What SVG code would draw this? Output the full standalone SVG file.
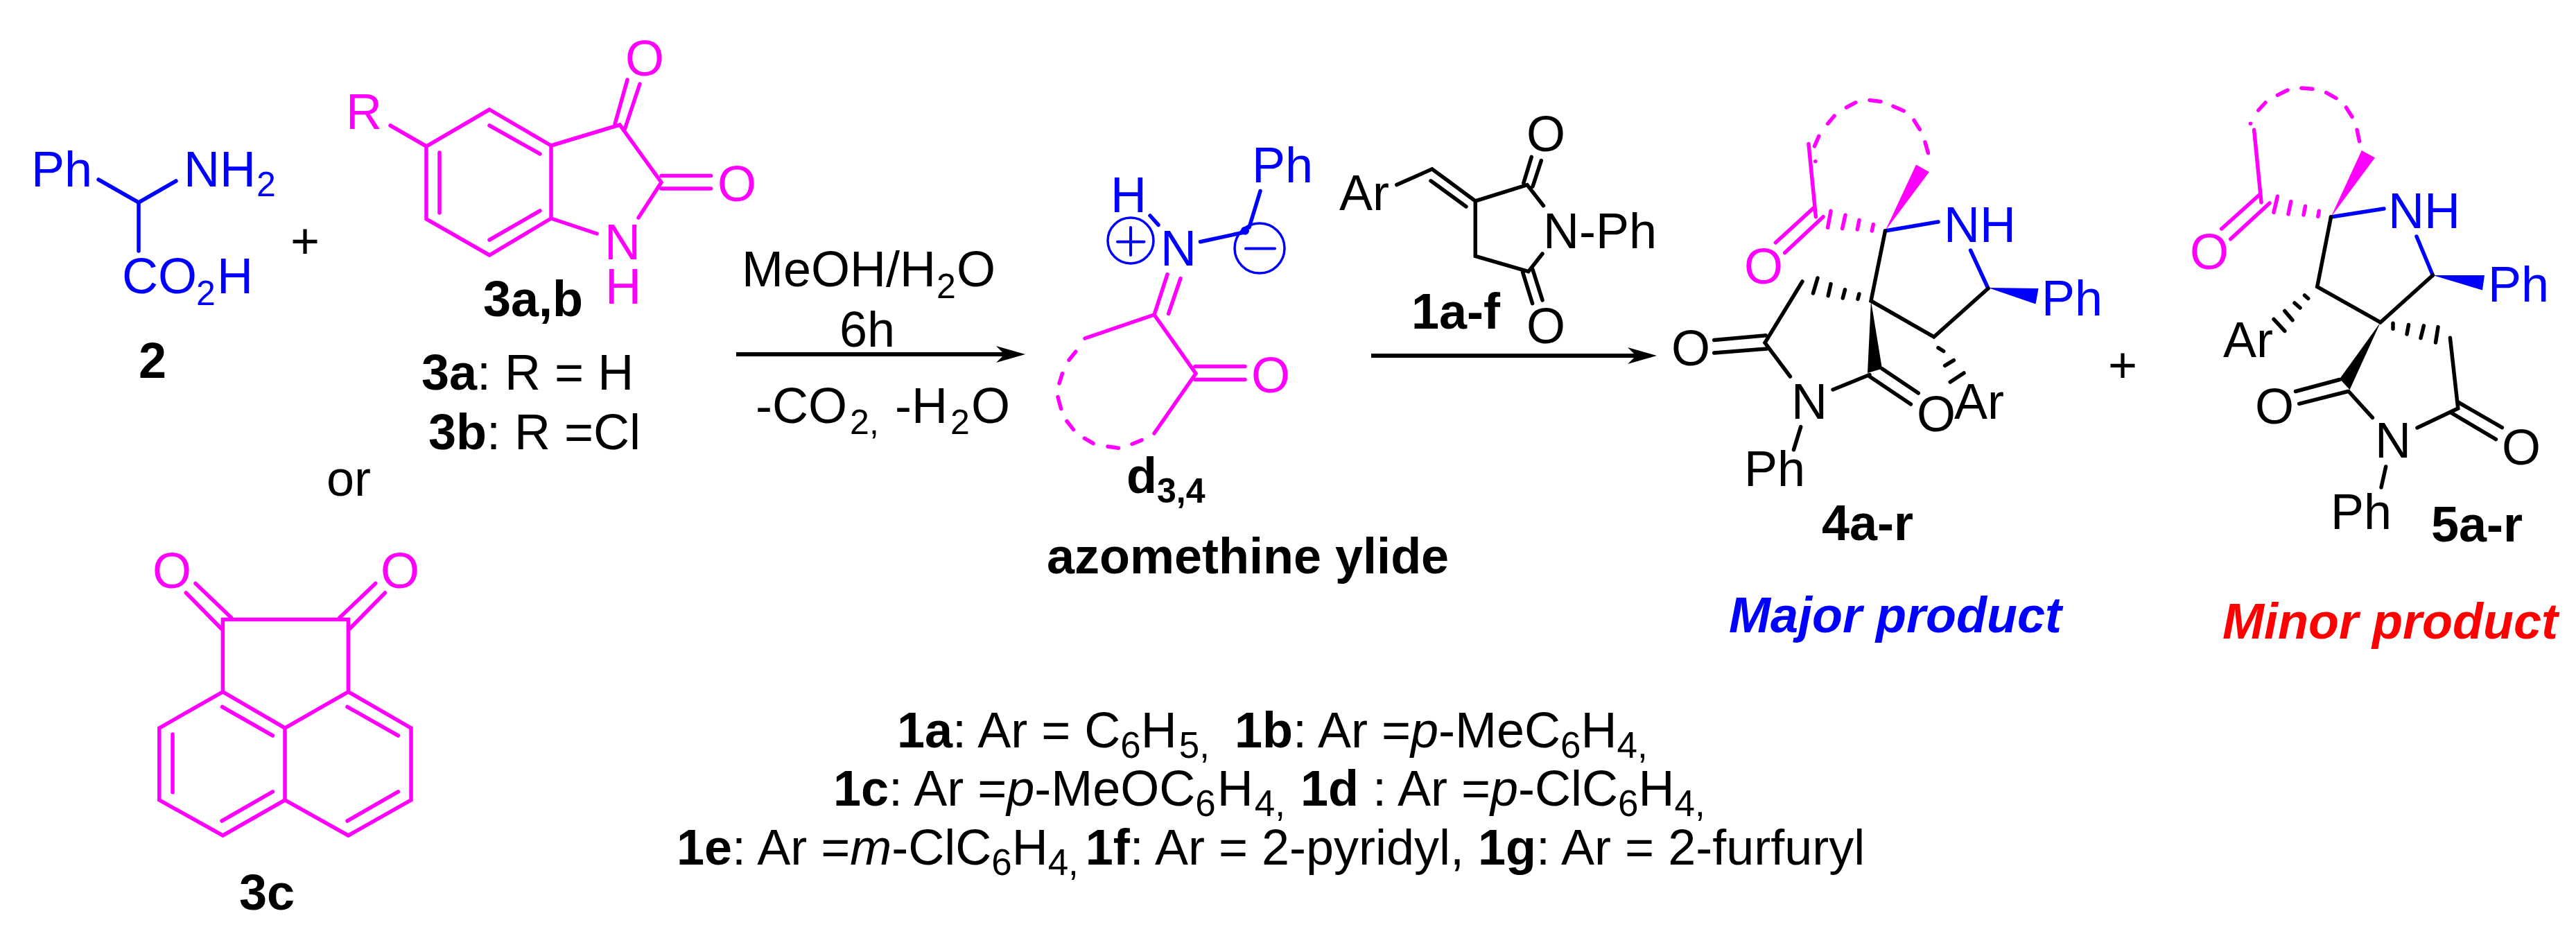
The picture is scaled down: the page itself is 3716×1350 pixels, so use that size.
<svg xmlns="http://www.w3.org/2000/svg" width="3716" height="1350" viewBox="0 0 3716 1350">
<style>
text{font-family:"Liberation Sans",Arial,sans-serif;font-size:72px;fill:#000}
.s{font-size:50px}
.l{font-size:53px}
.B{font-weight:bold}
.I{font-style:italic}
.BI{font-weight:bold;font-style:italic}
.tm{fill:#f0f}
.tb{fill:#00f}
.tr{fill:#f00}
path{fill:none;stroke-width:5.5;stroke-linecap:round;stroke-linejoin:miter}
.m{stroke:#f0f}
.b{stroke:#00f}
.k{stroke:#000}
.w{stroke:none}
.wm{fill:#f0f}
.wb{fill:#00f}
.wk{fill:#000}
.ar{stroke:#000;stroke-width:6;stroke-linecap:butt}
.c{fill:none;stroke:#00f;stroke-width:3.5}
</style>
<defs>
<marker id="head" markerUnits="userSpaceOnUse" markerWidth="46" markerHeight="28" refX="12" refY="12" orient="auto">
<path class="w wk" d="M0 0L42 12L0 24L12 12Z"/>
</marker>
</defs>
<rect width="3716" height="1350" fill="#fff"/>

<g id="connectors">
<path class="ar" d="M1062 511H1449" marker-end="url(#head)"/>
<path class="ar" d="M1978 513H2360" marker-end="url(#head)"/>
</g>

<g id="compound-2">
<path class="b" d="M142 259L200 292L254 261M200 292V362"/>
<text class="tb" x="45" y="269">Ph</text>
<text class="tb" x="265" y="269">NH<tspan class="s" x="370" y="283">2</tspan></text>
<text class="tb" x="176" y="423">CO<tspan class="s" x="283" y="440">2</tspan><tspan x="313" y="423">H</tspan></text>
<text class="B" x="200" y="545">2</text>
</g>

<text id="plus-1" x="419" y="372">+</text>

<g id="compound-3ab">
<path class="m" d="M563 181L615 211M706 158L795 210V315L706 368L615 316V211ZM706 181L779 222M634 220V307M779 304L706 346M795 210L894 180L954 263L921 314M795 315L861 337M905 115L887 179M923 121L901 187M954 253.600H1025.600M954 272H1025.600"/>
<text class="tm" x="499" y="186">R</text>
<text class="tm" x="902" y="109">O</text>
<text class="tm" x="1035" y="290">O</text>
<text class="tm" x="872" y="374">N</text>
<text class="tm" x="873" y="437.500">H</text>
<text class="B" x="697" y="456">3a,b</text>
<text x="608" y="561.600"><tspan class="B">3a</tspan>: R = H</text>
<text x="618" y="648"><tspan class="B">3b</tspan>: R =Cl</text>
<text x="471" y="715">or</text>
</g>

<g id="compound-3c">
<path class="m" d="M321.400 997.800V893.600H502.400V997.800L411 1050V1154L502.400 1205L593 1154V1050L502.400 997.800M321.400 997.800L229.800 1050V1154L321.400 1205L411 1154M321.400 997.800L411 1050M320.600 1019.500L393.400 1061M249 1059V1142.700M320 1184L393.400 1141.800M501 1019.500L574.400 1061M501 1184L574.400 1141.800M268.300 855L319.500 907M282 841.500L333.700 891M555.500 855L504.300 907M541.700 841.500L489.700 891"/>
<text class="tm" x="220" y="848">O</text>
<text class="tm" x="549" y="848">O</text>
<text class="B" x="345" y="1311.600">3c</text>
</g>

<g id="conditions-1">
<text x="1070" y="412.600">MeOH/H<tspan class="s" x="1351" y="429.600">2</tspan><tspan x="1380" y="412.600">O</tspan></text>
<text x="1211" y="500">6h</text>
<text x="1090" y="610.400">-CO<tspan class="s" x="1226" y="626">2</tspan><tspan class="s" x="1254" y="626">,</tspan><tspan x="1291" y="610.400">-H</tspan><tspan class="s" x="1371" y="626">2</tspan><tspan x="1401" y="610.400">O</tspan></text>
</g>

<g id="ylide-d34">
<path class="b" d="M1659 311L1671 324.400M1731.500 348.700L1795 335M1818 275.500L1802 328"/>
<circle cx="1796" cy="332.700" r="6" fill="#00f"/>
<circle class="c" cx="1631" cy="347" r="33"/>
<circle class="c" cx="1817" cy="358" r="36"/>
<path class="b" d="M1612 348.700H1650.500M1631 328V368M1797 358.400H1839" style="stroke-width:4"/>
<text class="tb" x="1602" y="306">H</text>
<text class="tb" x="1674" y="382.600">N</text>
<text class="tb" x="1806" y="263.400">Ph</text>
<path class="m" d="M1684 395.700L1665 454M1703 401.500L1685.600 452.400M1565 488L1665 454L1725 538.700L1665 625M1724 528.500H1796M1724 547.400H1796M1542 519.300L1551.700 507.200M1528 553L1532.500 538.700M1526 572.600L1530.600 589.600M1539 607.500L1548.500 619.600M1564.400 632.200L1577 639.500M1598 644L1613.500 646.300M1633 640.500L1647 634.700"/>
<text class="tm" x="1805" y="566">O</text>
<text class="B" x="1625" y="710.800">d<tspan class="s" x="1669" y="725">3,4</tspan></text>
<text class="B" x="1510" y="827">azomethine ylide</text>
</g>

<g id="compound-1af">
<path class="k" d="M2014.800 266.600L2065.800 243.800L2128.300 289.900L2203 266.600L2226.500 296.700M2064 260.800L2115 298M2128.300 289.900V369.400L2204.800 391.700L2225 366M2197.800 264L2209.300 226.400M2211 269L2223.300 231.700M2196.600 392.600L2210.600 437.700M2211 388.800L2225 432.900"/>
<text x="1932" y="303">Ar</text>
<text x="2202" y="218">O</text>
<text x="2202" y="495.400">O</text>
<text x="2226" y="357.700">N-Ph</text>
<text class="B" x="2036" y="474">1a-f</text>
</g>

<g id="product-4">
<path class="w wm" d="M2719.500 333L2764 237.500L2783 248Z"/>
<path class="m" d="M2641 304.400L2636.600 328.200M2662 310.200L2657.600 329.600M2682 317.500L2679.300 331M2702.300 323.800L2700.400 333M2609 207.500L2619.400 312.700M2615.500 300.500L2561.400 350M2630 312.700L2574.700 364.500M2617.500 210.900L2623.800 196.300M2618.800 232.700L2618.800 232.700M2636.600 178.400L2646 167.200M2663.400 155L2676.800 147.800M2697 144.500L2713 146.400M2731 153.200L2746.300 160M2761 173.500L2769.300 186.600M2777 205L2781.400 220.600"/>
<text class="tm" x="2516" y="408.600">O</text>
<path class="b" d="M2719.500 333L2796 320M2842.600 361L2868 416"/>
<path class="w wb" d="M2868 415L2940.600 416L2936.500 438.600Z"/>
<text class="tb" x="2804" y="349">NH</text>
<text class="tb" x="2945" y="455">Ph</text>
<path class="k" d="M2719.500 333L2699 434L2789.700 486L2868 416M2622 401L2615.500 423M2641 409.600L2637.200 426.600M2661.500 417.800L2658.300 430M2681.900 424L2680 431.400M2600 406L2546 494.400L2582.400 543M2472.700 490.500L2547.300 483.800M2472.700 509L2549 503M2644 562L2697 540.500M2715 531.700L2767.300 567M2697 543L2756.500 583M2796 501.700L2803.700 506.500M2805.600 527.400L2818.400 519.600M2813.300 551L2833 538M2597.700 615.600L2587.500 648.600"/>
<path class="w wk" d="M2699 434L2694 538L2715 531.700Z"/>
<text x="2411" y="527.400">O</text>
<text x="2584" y="603.500">N</text>
<text x="2765" y="622">O</text>
<text x="2819" y="603.500">Ar</text>
<text x="2516" y="701.400">Ph</text>
<text class="B" x="2628" y="779">4a-r</text>
<text class="BI tb" x="2494" y="911.700">Major product</text>
</g>

<text id="plus-2" x="3041" y="551">+</text>

<g id="product-5">
<path class="w wm" d="M3362.500 313L3406.800 217L3426 227.400Z"/>
<path class="m" d="M3285.400 283.200L3280 306.400M3304.700 290.800L3301 308.700M3325.500 297.500L3323 310M3345.300 304.200L3343.800 312.200M3251.600 187.200L3262 292M3260.400 280L3204.700 330M3274 293L3217.700 344.800M3246.400 178.300L3246.400 178.300M3257.800 159L3268 148M3285.400 137.200L3300 130M3319.800 127L3336 128.300M3355.700 133.700L3370 141.700M3384.400 155L3393 168.500M3400 187.200L3403.600 203.800"/>
<text class="tm" x="3159" y="388">O</text>
<path class="b" d="M3362.500 313L3439 301M3486 341L3509.400 397"/>
<path class="w wb" d="M3509.400 397L3584 397L3581 418.500Z"/>
<text class="tb" x="3445" y="329">NH</text>
<text class="tb" x="3589" y="435">Ph</text>
<path class="k" d="M3362.500 313L3342.700 413.600L3433.900 465L3509.400 397M3329.700 430.500L3324.500 426M3318 444L3310 437M3307 461.800L3295.800 448.400M3295.800 477.400L3280 460.400M3452 466.300V474.300M3474.500 468.500L3472 482M3496.400 469.800L3492 487.700M3517 471.600L3513.500 494M3534.400 487.200L3545.800 589L3487 617M3311.500 564.500L3375 547.500M3316.700 582.300L3387 564.500M3388 564.500L3422.400 602.400M3545.800 580L3609.400 616.700M3536.500 595.700L3600.500 633.700M3441.700 673L3435 703"/>
<path class="w wk" d="M3433.900 465L3375 546.600L3389.600 562Z"/>
<text x="3207" y="514.500">Ar</text>
<text x="3253" y="611">O</text>
<text x="3426" y="660">N</text>
<text x="3609" y="670">O</text>
<text x="3362" y="762.700">Ph</text>
<text class="B" x="3507" y="780.700">5a-r</text>
<text class="BI tr" x="3206" y="920.700">Minor product</text>
</g>

<g id="substituent-list">
<text x="1294" y="1078"><tspan class="B">1a</tspan>: Ar = C<tspan class="l" dy="15">6</tspan><tspan dy="-15">H</tspan><tspan class="l" dx="3" dy="15">5,</tspan><tspan dx="16" dy="-15"> </tspan><tspan class="B">1b</tspan>: Ar =<tspan class="I">p</tspan>-MeC<tspan class="l" dy="15">6</tspan><tspan dy="-15">H</tspan><tspan class="l" dy="15">4,</tspan></text>
<text x="1202" y="1162"><tspan class="B">1c</tspan>: Ar =<tspan class="I">p</tspan>-MeOC<tspan class="l" dy="15">6</tspan><tspan dx="2" dy="-15">H</tspan><tspan class="l" dx="2" dy="15">4,</tspan><tspan dx="2" dy="-15"> </tspan><tspan class="B">1d</tspan> : Ar =<tspan class="I">p</tspan>-ClC<tspan class="l" dy="15">6</tspan><tspan dy="-15">H</tspan><tspan class="l" dy="15">4,</tspan></text>
<text x="976" y="1247"><tspan class="B">1e</tspan>: Ar =<tspan class="I">m</tspan>-ClC<tspan class="l" dy="15">6</tspan><tspan dy="-15">H</tspan><tspan class="l" dy="15">4,</tspan><tspan class="B" dx="10" dy="-15">1f</tspan>: Ar = 2-pyridyl, <tspan class="B">1g</tspan>: Ar = 2-furfuryl</text>
</g>
</svg>
